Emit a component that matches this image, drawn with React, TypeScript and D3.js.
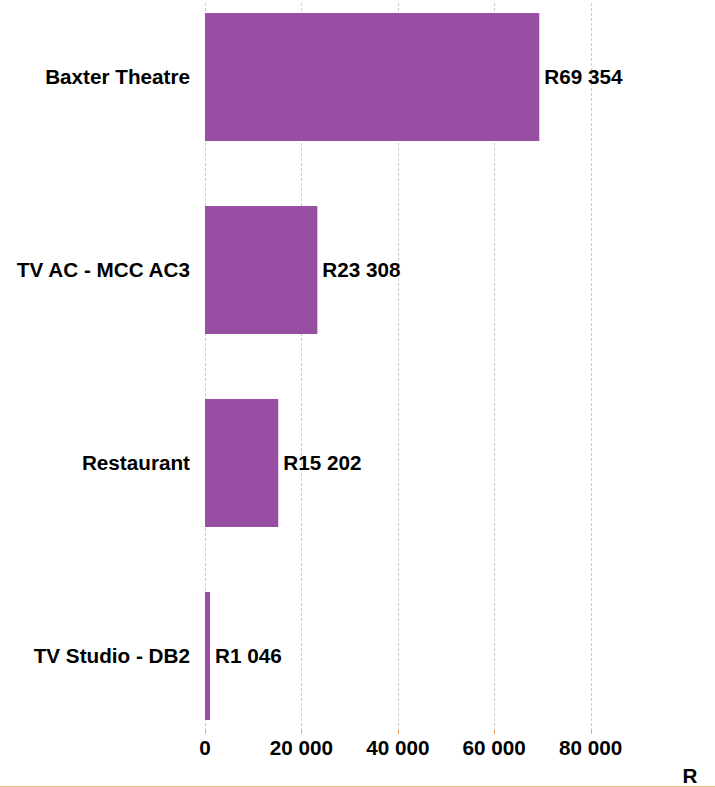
import React from "react";
import * as d3 from "d3";

const categories = ["Baxter Theatre", "TV AC - MCC AC3", "Restaurant", "TV Studio - DB2"];
const values = [69354, 23308, 15202, 1046];
const xTicks = [0, 20000, 40000, 60000, 80000];
const axisTitle = "R";

const W = 715;
const H = 787;
const FONT = "'Liberation Sans', Arial, sans-serif";
const FS = 20.7;

const fmt = (v: number) => d3.format(",")(v).replace(/,/g, " ");

export default function App() {
  const x = d3.scaleLinear().domain([0, 80000]).range([205, 590.6]);
  const y = d3
    .scaleBand<string>()
    .domain(categories)
    .range([3, 730])
    .paddingInner(0.337)
    .paddingOuter(0.052);
  const gridTop = 3;
  const gridBottom = 730;

  return (
    <svg
      width={W}
      height={H}
      style={{ position: "absolute", left: 0, top: 0, background: "#fff" }}
      fontFamily={FONT}
    >
      {xTicks.map((t) => (
        <g key={t}>
          <line
            x1={Math.round(x(t)) + 0.5}
            x2={Math.round(x(t)) + 0.5}
            y1={gridTop}
            y2={gridBottom}
            stroke="#cccccc"
            strokeWidth={1}
            strokeDasharray="3,2"
          />
          <line
            x1={Math.round(x(t)) + 0.5}
            x2={Math.round(x(t)) + 0.5}
            y1={gridBottom}
            y2={gridBottom + 4}
            stroke="#f4a259"
            strokeWidth={1}
          />
          <text
            x={x(t)}
            y={755}
            textAnchor="middle"
            fontSize={FS}
            fontWeight="bold"
            fill="#000"
          >
            {fmt(t)}
          </text>
        </g>
      ))}
      {categories.map((c, i) => (
        <g key={c}>
          <rect
            x={x(0)}
            y={y(c)!}
            width={x(values[i]) - x(0)}
            height={y.bandwidth()}
            fill="#984ea3"
          />
          <text
            x={190}
            y={y(c)! + y.bandwidth() / 2}
            dy="0.36em"
            textAnchor="end"
            fontSize={FS}
            fontWeight="bold"
            fill="#000"
          >
            {c}
          </text>
          <text
            x={x(values[i]) + 5}
            y={y(c)! + y.bandwidth() / 2}
            dy="0.36em"
            textAnchor="start"
            fontSize={FS}
            fontWeight="bold"
            fill="#000"
          >
            {"R" + fmt(values[i])}
          </text>
        </g>
      ))}
      <text x={690} y={783} textAnchor="middle" fontSize={FS} fontWeight="bold" fill="#000">
        {axisTitle}
      </text>
      <line x1={0} x2={W} y1={786.5} y2={786.5} stroke="#e9b98b" strokeWidth={1} />
    </svg>
  );
}
